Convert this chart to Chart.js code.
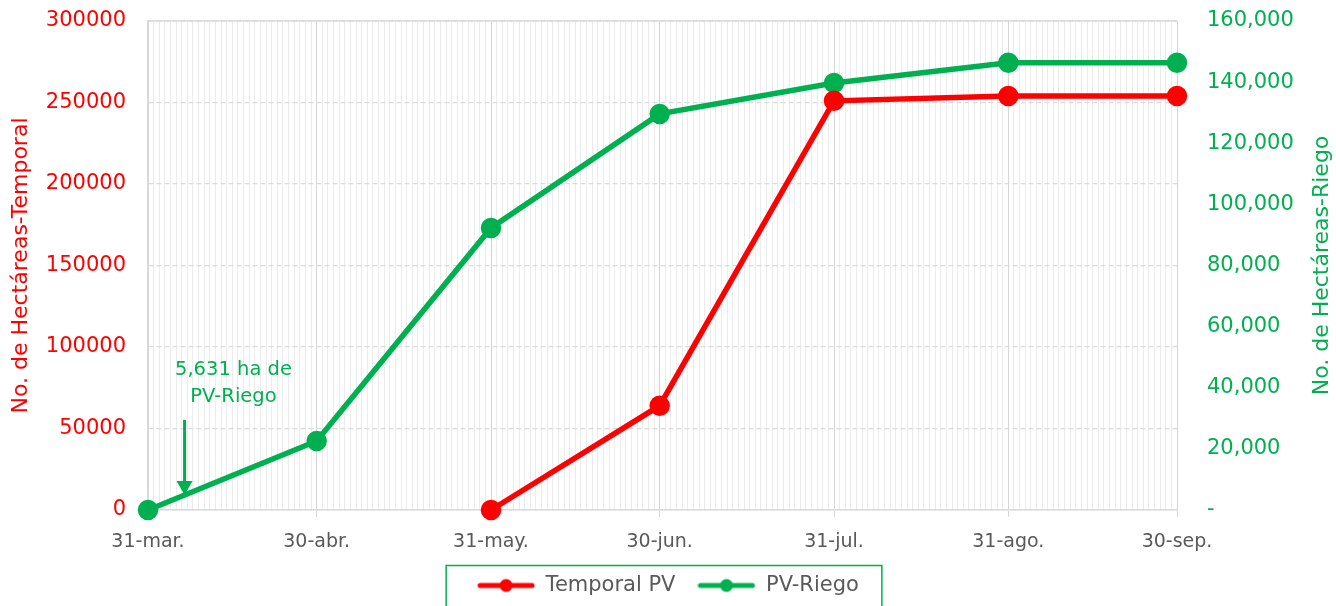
<!DOCTYPE html>
<html>
<head>
<meta charset="utf-8">
<script src="https://cdn.jsdelivr.net/npm/chart.js@4"></script>
<style>
  html, body { margin: 0; padding: 0; background: #fff; overflow: hidden; }
  #wrap { width: 1336px; height: 606px; }
</style>
</head>
<body>
<div id="wrap"><canvas id="grafica"></canvas></div>
<script>
// fechas de corte (días contados desde 31-mar)
const fechas = ['31-mar.', '30-abr.', '31-may.', '30-jun.', '31-jul.', '31-ago.', '30-sep.'];
const dias = [0, 30, 61, 91, 122, 153, 183];
const temporalPV = [null, null, 0, 64000, 251000, 254000, 254000];
const pvRiego = [0, 22600, 92300, 129600, 139700, 146300, 146300];

const nota = ['5,631 ha de', 'PV-Riego'];
const notaDia = 6.5;
const tituloDer = 'No. de Hectáreas-Riego';

const ROJO = '#FF0000';
const VERDE = '#00B050';
const GRIS = '#595959';
const FUENTE = '"DejaVu Sans", Verdana, sans-serif';

const puntos = (vals) => dias.map((d, i) => ({ x: d, y: vals[i] })).filter(p => p.y !== null);

function iconoLeyenda(color) {
  const c = document.createElement('canvas');
  c.width = 58; c.height = 16;
  const ctx = c.getContext('2d');
  ctx.strokeStyle = color;
  ctx.lineWidth = 5;
  ctx.lineCap = 'round';
  ctx.beginPath(); ctx.moveTo(3, 8); ctx.lineTo(55, 8); ctx.stroke();
  ctx.fillStyle = color;
  ctx.beginPath(); ctx.arc(29, 8, 6.5, 0, Math.PI * 2); ctx.fill();
  return c;
}

const notaPlugin = {
  id: 'nota',
  beforeDatasetsDraw(chart) {
    // borde superior continuo del área de trazado
    const { ctx, chartArea } = chart;
    ctx.save();
    ctx.strokeStyle = '#d9d9d9';
    ctx.lineWidth = 1.5;
    ctx.beginPath(); ctx.moveTo(chartArea.left, chartArea.top); ctx.lineTo(chartArea.right, chartArea.top); ctx.stroke();
    ctx.restore();
  },
  afterDatasetsDraw(chart) {
    const { ctx, scales, chartArea } = chart;
    const x = scales.x.getPixelForValue(notaDia);
    const yVal = pvRiego[0] + (pvRiego[1] - pvRiego[0]) * notaDia / 30;
    const yTip = scales.y1.getPixelForValue(yVal);
    const yTop = scales.y1.getPixelForValue(29500);
    ctx.save();
    ctx.strokeStyle = VERDE;
    ctx.fillStyle = VERDE;
    ctx.lineWidth = 3;
    ctx.beginPath(); ctx.moveTo(x, yTop); ctx.lineTo(x, yTip - 12); ctx.stroke();
    ctx.beginPath(); ctx.moveTo(x - 8, yTip - 14); ctx.lineTo(x + 8, yTip - 14); ctx.lineTo(x, yTip); ctx.closePath(); ctx.fill();
    ctx.font = '19.5px ' + FUENTE;
    ctx.textAlign = 'center';
    ctx.textBaseline = 'middle';
    const xt = scales.x.getPixelForValue(15.2);
    ctx.fillText(nota[0], xt, yTop - 50);
    ctx.fillText(nota[1], xt, yTop - 23);

    // título del eje derecho, leído de abajo hacia arriba
    ctx.translate(1322, (chartArea.top + chartArea.bottom) / 2);
    ctx.rotate(-Math.PI / 2);
    ctx.font = '22px ' + FUENTE;
    ctx.fillText(tituloDer, 0, 0);
    ctx.restore();
  }
};

const marcoLeyenda = {
  id: 'marcoLeyenda',
  afterDraw(chart) {
    const hb = chart.legend.legendHitBoxes;
    if (!hb || !hb.length) return;
    const left = Math.min(...hb.map(b => b.left)) - 31;
    const right = Math.max(...hb.map(b => b.left + b.width)) + 23;
    const cy = hb[0].top + hb[0].height / 2;
    const { ctx } = chart;
    ctx.save();
    ctx.strokeStyle = VERDE;
    ctx.lineWidth = 1.5;
    ctx.strokeRect(left, cy - 20, right - left, 60);
    ctx.restore();
  }
};

const grafica = new Chart(document.getElementById('grafica'), {
  type: 'line',
  data: {
    datasets: [{
      label: 'Temporal PV',
      data: puntos(temporalPV),
      borderColor: ROJO,
      backgroundColor: ROJO,
      borderWidth: 5.5,
      pointRadius: 7.5,
      pointHoverRadius: 7.5,
      clip: false,
      yAxisID: 'y',
      icono: iconoLeyenda(ROJO)
    }, {
      label: 'PV-Riego',
      data: puntos(pvRiego),
      borderColor: VERDE,
      backgroundColor: VERDE,
      borderWidth: 5.5,
      pointRadius: 7.5,
      pointHoverRadius: 7.5,
      clip: false,
      yAxisID: 'y1',
      icono: iconoLeyenda(VERDE)
    }]
  },
  options: {
    responsive: true,
    maintainAspectRatio: false,
    animation: false,
    layout: { padding: { top: 21, left: 0, right: 0, bottom: 0 } },
    plugins: {
      tooltip: { enabled: false },
      legend: {
        position: 'bottom',
        labels: {
          usePointStyle: true,
          pointStyleWidth: 58,
          padding: 22,
          color: GRIS,
          font: { family: FUENTE, size: 21 },
          generateLabels(chart) {
            return chart.data.datasets.map((ds, i) => ({
              text: ds.label,
              pointStyle: ds.icono,
              fillStyle: ds.borderColor,
              strokeStyle: ds.borderColor,
              lineWidth: 0,
              fontColor: GRIS,
              hidden: false,
              datasetIndex: i
            }));
          }
        }
      }
    },
    scales: {
      x: {
        type: 'linear',
        min: 0,
        max: 183,
        afterBuildTicks(scale) {
          scale.ticks = Array.from({ length: 184 }, (_, i) => ({ value: i }));
        },
        afterFit(scale) { scale.height = 43; },
        ticks: {
          autoSkip: false,
          maxRotation: 0,
          padding: 14,
          color: GRIS,
          font: { family: FUENTE, size: 19 },
          callback: (v) => {
            const k = dias.indexOf(v);
            return k >= 0 ? fechas[k] : '';
          }
        },
        grid: {
          color: (c) => dias.includes(c.tick && c.tick.value) ? '#d6d6d6' : '#ececec',
          tickColor: (c) => dias.includes(c.tick && c.tick.value) ? '#d6d6d6' : 'rgba(0,0,0,0)',
          tickLength: 7,
          lineWidth: 1
        },
        border: { color: '#d9d9d9', width: 1.5 }
      },
      y: {
        position: 'left',
        min: 0,
        max: 300000,
        afterFit(scale) { scale.width = 148; },
        ticks: {
          stepSize: 50000,
          padding: 0,
          color: ROJO,
          font: { family: FUENTE, size: 21 },
          callback: (v) => String(v)
        },
        grid: { color: '#dcdcdc', tickLength: 22, tickColor: 'rgba(0,0,0,0)', lineWidth: 1.2 },
        border: { color: '#d9d9d9', width: 1.5, dash: [5, 3] },
        title: {
          display: true,
          text: 'No. de Hectáreas-Temporal',
          color: ROJO,
          font: { family: FUENTE, size: 22 },
          padding: { top: 8, bottom: 0 }
        }
      },
      y1: {
        position: 'right',
        min: 0,
        max: 160000,
        afterFit(scale) { scale.width = 159; },
        ticks: {
          stepSize: 20000,
          padding: 0,
          color: VERDE,
          font: { family: FUENTE, size: 21 },
          callback: (v) => v === 0 ? '-' : v.toLocaleString('en-US')
        },
        grid: { drawOnChartArea: false, tickLength: 30, tickColor: 'rgba(0,0,0,0)' },
        border: { display: false }
      }
    }
  },
  plugins: [notaPlugin, marcoLeyenda]
});
</script>
</body>
</html>
